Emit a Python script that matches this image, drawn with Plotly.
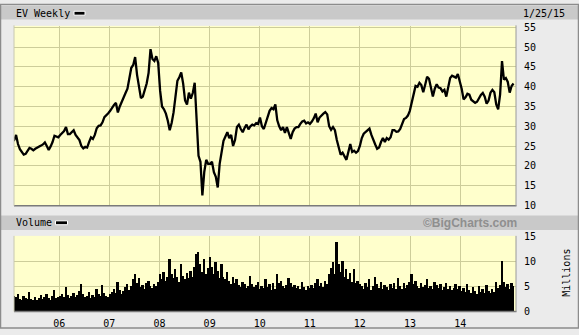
import pandas as pd
import plotly.graph_objects as go

# ---------------- data ----------------
end_date = "2015-01-25"
n_points = 262  # bi-weekly samples

price = [
    # 2005
    26.3, 26.5, 27.8, 25.5, 24.2, 23.5, 22.8, 23.0, 23.6, 24.5, 24.3, 23.9, 24.3,
    24.5, 24.9, 25.1, 25.4, 25.9, 25.0, 24.0, 24.9, 26.0, 27.6, 27.3, 27.2, 27.8,
    # 2006
    28.2, 28.8, 29.8, 28.0, 28.0, 28.5, 29.0, 27.8, 27.2, 26.5, 25.0, 24.4, 24.8,
    24.6, 26.0, 27.2, 26.8, 27.8, 29.5, 30.1, 30.2, 31.0, 32.3, 32.7, 33.3, 33.9,
    # 2007
    34.7, 35.4, 35.9, 33.5, 35.0, 36.0, 37.2, 38.4, 39.5, 42.5, 44.8, 45.5, 47.5,
    43.0, 40.0,
    37.1, 37.5, 39.0, 40.8, 43.5, 49.5, 47.0, 46.5, 47.7, 46.0, 39.0,
    # 2008
    35.0, 34.3, 33.2, 31.4, 29.0, 30.8, 33.5, 37.5, 41.5, 42.4, 43.6, 40.8, 36.5,
    35.5, 38.5, 37.0, 38.4, 41.0, 33.0, 22.5, 21.0, 12.5, 18.5, 21.5, 20.5, 20.5,
    # 2009
    21.0, 18.4, 17.2, 14.5, 20.5, 24.0, 26.3, 27.4, 28.5, 27.0, 27.8, 25.0, 26.5,
    29.8, 30.4, 29.3, 28.5, 29.6, 30.4, 29.2, 30.0, 30.4, 30.2, 30.8, 30.6, 32.2,
    # 2010
    30.0, 29.3, 30.8, 32.5, 33.9, 34.6, 34.3, 35.5, 31.5, 30.0, 29.0, 29.8, 28.3,
    29.8, 28.5, 26.8, 28.5, 29.4, 29.8, 29.8, 30.6, 31.2, 31.4, 30.7, 31.0, 30.6,
    # 2011
    31.2, 32.0, 33.2, 31.0, 32.2, 32.8, 33.2, 33.6, 33.0, 30.0, 29.1, 29.8, 29.0,
    26.5, 24.2, 22.8, 23.3, 22.5, 21.5, 23.5, 25.5, 23.5, 23.8, 23.3, 23.7, 25.0,
    # 2012
    27.0, 28.1, 28.6, 29.0, 29.4, 27.8, 26.8, 25.4, 24.3, 24.6, 26.0, 27.0, 26.0,
    27.0, 26.6, 27.2, 29.0, 29.0, 28.6, 28.7, 29.3, 30.5, 31.8, 32.1, 32.7, 33.9,
    # 2013
    36.2, 38.3, 40.2, 40.0, 41.0, 40.4, 38.6, 40.5, 42.5, 42.0, 39.8, 37.5, 39.5,
    40.6, 39.8, 39.6, 38.8, 39.2, 37.5, 40.4, 42.2, 42.8, 42.6, 42.3, 43.2, 41.6,
    # 2014 - Jan 2015
    39.5, 36.8, 37.3, 38.2, 38.0, 36.7, 36.2, 35.9, 36.2, 37.2, 37.9, 38.4, 37.5,
    35.7, 36.5, 38.5, 39.2, 38.6, 35.5, 34.3, 38.0, 46.5, 41.8, 42.2, 41.2, 38.5,
    40.2, 40.8,
]

volume_millions = [
    # 2005
    4.5, 3.0, 2.8, 3.5, 2.5, 2.2, 3.0, 2.6, 2.4, 3.8, 2.5, 2.3, 2.8, 2.2, 2.6, 3.2,
    2.4, 2.9, 3.5, 2.7, 2.3, 3.0, 4.2, 2.6, 2.8, 3.1,
    # 2006
    3.4, 2.9, 4.8, 3.3, 2.7, 3.0, 3.6, 2.8, 3.2, 4.0, 5.5, 3.4, 2.9, 3.1, 3.8, 2.7,
    3.3, 2.9, 4.4, 3.5, 3.0, 5.2, 3.6, 3.1, 2.8, 3.4,
    # 2007
    3.8, 4.5, 3.6, 6.0, 4.2, 3.5, 4.0, 4.8, 5.5, 4.2, 5.0, 6.5, 7.5, 5.8, 6.8, 4.8,
    5.2, 4.5, 5.8, 6.2, 5.0, 4.6, 5.4, 5.0, 6.0, 7.5,
    # 2008
    6.5, 8.0, 6.2, 7.0, 10.5, 7.5, 6.8, 8.5, 7.0, 6.0, 9.5, 7.2, 6.5, 7.8, 6.8, 8.2,
    7.0, 9.0, 11.5, 12.0, 9.5, 8.0, 10.5, 7.5, 8.8, 11.0,
    # 2009
    9.0, 7.5, 10.0, 8.2, 6.8, 9.5, 7.0, 6.5, 8.0, 6.2, 5.5, 7.0, 5.8, 6.5, 5.2, 4.8,
    6.0, 5.5, 4.6, 5.0, 7.2, 5.4, 4.8, 5.2, 6.0, 4.5,
    # 2010
    5.0, 4.6, 6.5, 4.8, 5.4, 4.2, 5.8, 4.5, 7.5, 5.6, 6.2, 5.0, 4.7, 5.3, 6.8, 5.8,
    4.8, 5.2, 4.6, 5.0, 4.4, 6.0, 4.8, 4.3, 5.1, 4.7,
    # 2011
    5.2, 4.6, 5.8, 6.5, 5.0, 5.6, 4.8, 6.2, 5.4, 7.5, 8.8, 10.0, 7.5, 14.0, 9.5, 8.0,
    10.2, 7.0, 8.5, 6.5, 7.8, 6.0, 8.5, 5.8, 6.2, 5.5,
    # 2012
    5.0, 4.5, 5.8, 4.8, 6.5, 4.2, 5.0, 7.0, 5.5, 4.6, 6.0, 4.4, 5.2, 4.8, 4.2, 5.5,
    4.6, 5.8, 4.4, 6.8, 5.0, 4.5, 5.6, 4.7, 5.2, 6.0,
    # 2013
    7.5, 5.5, 6.2, 5.0, 4.6, 5.8, 4.8, 5.3, 6.5, 4.7, 5.0, 4.4, 6.0, 5.2, 4.6, 5.5,
    4.3, 4.8, 5.8, 4.5, 5.0, 4.2, 4.7, 5.4, 4.4, 5.0,
    # 2014 - Jan 2015
    4.0, 4.6, 3.8, 5.5, 4.2, 3.6, 4.8, 4.0, 3.5, 5.0, 3.8, 4.4, 3.6, 5.2, 4.0, 3.7,
    4.5, 3.9, 6.0, 4.6, 5.2, 10.2, 6.0, 4.8, 5.4, 4.4, 5.8, 5.0,
]

year_ticks = ["2006-01-01", "2007-01-01", "2008-01-01", "2009-01-01", "2010-01-01",
              "2011-01-01", "2012-01-01", "2013-01-01", "2014-01-01"]
year_labels = ["06", "07", "08", "09", "10", "11", "12", "13", "14"]
price_ticks = [10, 15, 20, 25, 30, 35, 40, 45, 50, 55]
volume_ticks = [0, 5, 10, 15]

dates = pd.date_range(end=end_date, periods=n_points, freq="14D")

# ---------------- layout helpers ----------------
W, H = 579, 335
def px(x):
    return x / W
def py(y):
    return 1 - y / H

BG = "#ebebeb"
BAR = "#c9c9c9"
PLOT_BG = "#ffffcc"
GRID = "#cdcd9a"
MONO = "DejaVu Sans Mono"

x_range = ["2005-02-05", "2015-02-12"]

fig = go.Figure()
fig.add_trace(go.Scatter(x=dates, y=price, mode="lines",
                         line=dict(color="black", width=2.3), xaxis="x", yaxis="y",
                         showlegend=False))
fig.add_trace(go.Bar(x=dates, y=volume_millions, marker=dict(color="black", line_width=0),
                     xaxis="x2", yaxis="y2", showlegend=False))

axis_common = dict(showgrid=True, gridcolor=GRID, gridwidth=1, zeroline=False,
                   ticks="", tickfont=dict(family=MONO, size=10, color="black"))

fig.update_layout(
    width=W, height=H, margin=dict(l=0, r=0, t=0, b=0),
    paper_bgcolor=BG, plot_bgcolor=PLOT_BG, bargap=0,
    xaxis=dict(type="date", range=x_range, domain=[px(14), px(516)], anchor="y",
               tickvals=year_ticks, ticktext=year_labels, showticklabels=False,
               showline=False, **axis_common),
    yaxis=dict(range=[10, 55.4], domain=[py(207.5), py(22.5)], anchor="x", side="right",
               tickvals=price_ticks, ticklabelstandoff=7, showline=False, **axis_common),
    xaxis2=dict(type="date", range=x_range, domain=[px(14), px(516)], anchor="y2",
                tickvals=year_ticks, ticktext=year_labels, showticklabels=True,
                ticklabelstandoff=5, showline=False, **axis_common),
    yaxis2=dict(range=[0, 15.2], domain=[py(316.5), py(239)], anchor="x2", side="right",
                tickvals=volume_ticks, ticklabelstandoff=7, showline=False, **axis_common),
)

shapes = [
    # title bar
    dict(type="rect", xref="paper", yref="paper", x0=px(1), x1=px(578), y0=py(16), y1=py(2),
         fillcolor=BAR, line_width=0, layer="below"),
    # volume label bar
    dict(type="rect", xref="paper", yref="paper", x0=px(1), x1=px(578), y0=py(233), y1=py(218),
         fillcolor=BAR, line_width=0, layer="below"),
    # outer border
    dict(type="rect", xref="paper", yref="paper", x0=px(0.5), x1=px(578.5), y0=py(334), y1=py(0.5),
         line=dict(color="#8c8c8c", width=1.5), fillcolor="rgba(0,0,0,0)", layer="above"),
    # price panel frame (bottom/right dark)
    dict(type="line", xref="paper", yref="paper", x0=px(14), x1=px(516.5), y0=py(208), y1=py(208),
         line=dict(color="#7a7a7a", width=1.5)),
    dict(type="line", xref="paper", yref="paper", x0=px(516), x1=px(516), y0=py(208), y1=py(22),
         line=dict(color="#9a9a9a", width=1)),
    dict(type="line", xref="paper", yref="paper", x0=px(14), x1=px(14), y0=py(208), y1=py(22),
         line=dict(color="#c8c8b0", width=1)),
    # volume panel frame
    dict(type="line", xref="paper", yref="paper", x0=px(14), x1=px(516.5), y0=py(317), y1=py(317),
         line=dict(color="#7a7a7a", width=1.5)),
    dict(type="line", xref="paper", yref="paper", x0=px(516), x1=px(516), y0=py(317), y1=py(239),
         line=dict(color="#9a9a9a", width=1)),
    dict(type="line", xref="paper", yref="paper", x0=px(14), x1=px(14), y0=py(317), y1=py(239),
         line=dict(color="#c8c8b0", width=1)),
    # legend swatches
    dict(type="rect", xref="paper", yref="paper", x0=px(74), x1=px(85), y0=py(11.5), y1=py(7.5),
         fillcolor="black", line=dict(color="white", width=1)),
    dict(type="rect", xref="paper", yref="paper", x0=px(55.5), x1=px(67.5), y0=py(227.5), y1=py(223.5),
         fillcolor="black", line=dict(color="white", width=1)),
]
fig.update_layout(shapes=shapes)

ann_font = dict(family=MONO, size=10, color="black")
fig.update_layout(annotations=[
    dict(text="EV Weekly", xref="paper", yref="paper", x=px(13.5), y=py(9.5),
         xanchor="left", yanchor="middle", showarrow=False, font=ann_font),
    dict(text="1/25/15", xref="paper", yref="paper", x=px(567), y=py(9.5),
         xanchor="right", yanchor="middle", showarrow=False, font=ann_font),
    dict(text="Volume", xref="paper", yref="paper", x=px(13.5), y=py(225.5),
         xanchor="left", yanchor="middle", showarrow=False, font=ann_font),
    dict(text="©BigCharts.com", xref="paper", yref="paper", x=px(470), y=py(225.5),
         xanchor="center", yanchor="middle", showarrow=False,
         font=dict(family="Liberation Sans", size=12, color="#8f8f8f", weight="bold")),
    dict(text="Millions", xref="paper", yref="paper", x=px(567), y=py(277),
         xanchor="center", yanchor="middle", showarrow=False, textangle=-90, font=ann_font),
])

fig.write_html("out.html")
